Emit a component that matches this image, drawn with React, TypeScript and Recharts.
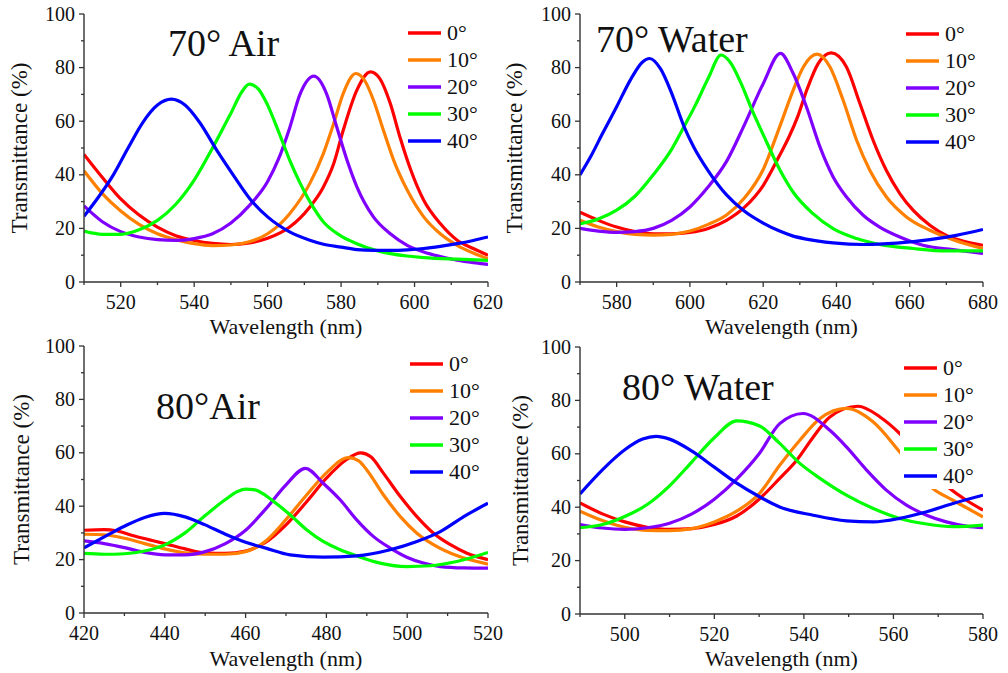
import { LineChart, Line, XAxis, YAxis, Legend } from "recharts";

const angles = ["0°", "10°", "20°", "30°", "40°"];
const colors = ["#ff0000", "#ff8000", "#8000ff", "#00ff00", "#0000ff"];
const yTicks = [0, 10, 20, 30, 40, 50, 60, 70, 80, 90, 100];

// 70° Air: [wavelength nm, transmittance %]
const air70_0 = [[510,47.6],[515,39],[520,31],[525,25],[530,20.5],[535,17.3],[540,15.5],[545,14.4],[550,14],[555,14.6],[560,16.3],[566,20.5],[571.5,28],[575,35],[578,44.2],[580.6,56.7],[584.3,71.6],[588,78.4],[590.5,76],[593.4,66.6],[596,54.2],[599,41.7],[602.5,30.5],[607,21.8],[611.6,15.6],[616,12.5],[620,10]];
const air70_10 = [[510,41.5],[515,33],[520,26.5],[525,21.5],[530,18],[535,15.8],[540,14.3],[545,13.6],[550,13.8],[555,15],[560,18],[566,25.5],[571.5,36.8],[575.2,48],[578,59.2],[580.6,70.4],[584,77.8],[586.5,75],[588.8,67.9],[591.5,56.7],[594.3,45.5],[598,34.3],[602.5,24.3],[607,18],[611.6,13.7],[616,10.8],[620,8.7]];
const air70_20 = [[510,28.4],[515,22.5],[520,18.8],[525,16.8],[530,15.8],[535,15.5],[540,16.2],[545,18],[550,22],[555,28.5],[560,37.5],[563,46],[566,57.5],[568.8,70],[572.6,76.8],[576,70.4],[578.8,57.9],[581.6,45.5],[584.3,35.5],[588.8,24.3],[593.4,18],[598,13.7],[602.5,11.2],[607,9.5],[611.6,8.1],[616,7.2],[620,6.6]];
const air70_30 = [[510,19],[515,17.8],[520,17.8],[525,19.5],[530,23],[535,29],[540,38],[545,50],[550,63],[553,71],[555,73.8],[557.5,72],[560,66],[563,56],[566,45.5],[568.8,37],[571.5,30],[575.2,22.4],[579.7,17.4],[584.3,14.3],[589,12],[593.4,10.6],[598,9.7],[602.5,9.1],[611.6,8.5],[620,8.1]];
const air70_40 = [[510,24.5],[514,31.8],[518,40],[522,50],[526,59.5],[530,66],[533.8,68.2],[537.5,66],[541.5,59.5],[546,49.5],[550.6,40],[555.2,31],[560,24.3],[566,18.7],[571.5,15.6],[575.2,14.1],[580,13],[584.3,12.1],[589,11.8],[593.4,11.8],[598,12],[602.5,12.5],[607,13.3],[611.6,14.3],[616,15.5],[620,16.8]];

// 70° Water
const water70_0 = [[570,26],[575,23],[580,20.5],[585,18.8],[590,18],[595,18],[600,18.5],[605,20],[610,23],[615,28],[620,36],[624.5,47.3],[627,54],[629.5,62],[632,72],[635,81.5],[638.6,85.5],[642.7,80.3],[646.4,66.6],[650,52.9],[653.6,41.7],[657.3,33],[660.9,26.8],[665.5,21.2],[670,17.4],[674.5,15.3],[680,13.7]];
const water70_10 = [[570,23],[575,20.5],[580,18.8],[585,17.8],[590,17.5],[595,17.8],[600,19],[605,21.5],[610,25],[615,31.5],[620,42],[624.5,57.9],[628.2,71.6],[631,80.3],[634.7,85],[638.2,80.3],[641.8,67.9],[645.5,52.9],[649.1,41.7],[653.6,31.8],[659.1,24.3],[665.5,19.3],[671.8,15.8],[680,12.5]];
const water70_20 = [[570,20],[575,19],[580,18.5],[585,18.8],[590,20],[595,23],[600,28],[605,35.5],[610,45],[615,59],[620,74],[624.7,85.3],[628.2,77.8],[631.8,65.4],[635.5,50.4],[639.1,39.2],[642.7,31.8],[647.3,24.9],[651.8,20.5],[657.3,16.8],[663.6,13.7],[671.8,12.1],[680,10.6]];
const water70_30 = [[570,21.7],[575,23.5],[580,26.8],[585,32],[590,40],[595,49.5],[598.4,58],[601.5,66],[605,76],[608.5,84.7],[611,82],[614,74],[617,64],[620,55],[624.5,42],[628.2,33.5],[633.6,25.5],[639.1,19.9],[645.5,16.2],[651.8,14],[660.9,12.5],[670,11.6],[680,11.6]];
const water70_40 = [[570,40],[573,47],[576,55],[580,65.4],[584,76],[587,82],[589,83.4],[592,79.5],[595,70.5],[598.4,58],[601,50.5],[605,41.5],[610,32.5],[615,26.3],[620,22],[624.5,19],[628,17.2],[631.8,16],[639.1,14.6],[647.3,14],[656.4,14.5],[665.5,15.8],[672.7,17.4],[680,19.6]];

// 80° Air
const air80_0 = [[420,31],[425,31.2],[428,30.8],[432,29],[436,27.5],[440,26],[445,24],[450,22.5],[455,22.3],[460,23.2],[465,26.5],[470,33],[475,41.5],[480,50.5],[485,57.5],[488.5,60],[491,58.5],[494.1,52.4],[498.3,43.6],[502.4,36.1],[506.5,29.9],[510.7,25.6],[514.8,22.4],[520,20]];
const air80_10 = [[420,29.5],[425,29.3],[430,28],[435,26],[440,24],[445,22.5],[450,22],[455,22],[460,23],[465,27],[470,35],[475,44],[480,52.5],[485.5,58.2],[488,57],[490,53.6],[494.1,44.3],[498.3,36.1],[502.4,29.9],[506.5,25.6],[512.4,21.4],[520,18.3]];
const air80_20 = [[420,27],[425,26],[430,24.5],[435,22.7],[440,21.8],[445,21.8],[450,23],[455,26],[460,31],[465,39],[470,48],[474.8,54.2],[479.2,48.6],[483.4,42.4],[487.5,34.9],[491.6,28.7],[495.8,24.3],[499.9,20.9],[504,18.7],[508.2,17.4],[514,16.9],[520,16.8]];
const air80_30 = [[420,22.3],[425,22],[430,22.2],[435,23.2],[440,25.5],[445,30],[450,36.5],[455,42.5],[458,45.5],[460,46.4],[462,46.2],[465,44],[468,40.5],[471,36.8],[475.1,31.2],[479.2,26.8],[483.4,23.7],[487.5,21.4],[493.3,18.7],[499.9,17.4],[505.7,17.7],[512.3,19.3],[520,22.7]];
const air80_40 = [[420,24.4],[425,28.5],[430,32.5],[435,35.8],[440,37.3],[445,36],[450,33],[455,29.5],[460,26.5],[465,24.3],[471,21.8],[479.2,20.9],[487.5,21.4],[495.8,23.7],[502.4,26.8],[508.2,30.5],[514,36.1],[520,41.1]];

// 80° Water
const water80_0 = [[490,41.6],[495,37.5],[500,34.5],[505,32.5],[510,31.7],[515,32],[520,33.5],[525,36.7],[530,43],[534.6,50.8],[538.4,57.6],[542.1,66.3],[545.8,73.8],[552.1,77.8],[557,73.8],[561.4,67.6],[566,59],[570,51],[572.6,47],[576.3,42.6],[580,38.9]];
const water80_10 = [[490,38.5],[495,35],[500,32.5],[505,31.3],[510,31.2],[515,32],[520,34.5],[525,38.5],[530,45],[534.6,55.7],[539.1,65.1],[543.6,73.2],[549.5,77],[555.5,71.9],[561.4,60.7],[565,53.5],[568.8,47],[573.3,42.6],[580,36.4]];
const water80_20 = [[490,33.5],[495,32.2],[500,31.7],[505,32.3],[510,34],[515,37.5],[520,43],[525,50.5],[530,60],[534.6,71.3],[539.8,75.1],[545.8,68.8],[549.5,62.6],[554,53.9],[558.4,46.4],[562.9,40.8],[567.4,37],[571.8,34.5],[576.3,32.9],[580,32.3]];
const water80_30 = [[490,32.3],[495,33.5],[500,36.5],[505,41],[510,48],[515,57],[520,66],[525,72.3],[530,70.5],[534.6,63.9],[539.1,56.4],[543.6,50.8],[549.5,44.5],[555.5,39.5],[561.4,35.8],[567.4,33.7],[573.3,32.7],[580,33.3]];
const water80_40 = [[490,45],[495,54],[500,61.5],[504,65.5],[507,66.5],[510,65.5],[515,61],[520,55],[525,49],[530,44],[534.6,40.1],[542.1,37],[549.5,34.9],[555.5,34.5],[561.4,35.8],[567.4,38.3],[573.3,41.4],[580,44.5]];

const air70Ticks = [510, 520, 530, 540, 550, 560, 570, 580, 590, 600, 610, 620];
const water70Ticks = [570, 580, 590, 600, 610, 620, 630, 640, 650, 660, 670, 680];
const air80Ticks = [420, 430, 440, 450, 460, 470, 480, 490, 500, 510, 520];
const water80Ticks = [490, 500, 510, 520, 530, 540, 550, 560, 570, 580];

const FONT = "'Liberation Serif', serif";
const INK = "#111";
const AXIS = "#333";

const toRows = (pts: number[][]) => pts.map(([wl, t]) => ({ wl, t }));

function BottomTick({ x, y, payload }: any) {
  const major = payload.value % 20 === 0;
  return (
    <g>
      <line x1={x} x2={x} y1={y} y2={y + (major ? 5 : 3)} stroke={AXIS} strokeWidth={1.3} />
      {major && (
        <text x={x} y={y + 27} textAnchor="middle" style={{ fontFamily: FONT, fontSize: 20 }} fill={INK}>
          {payload.value}
        </text>
      )}
    </g>
  );
}

function LeftTick({ x, y, payload }: any) {
  const major = payload.value % 20 === 0;
  return (
    <g>
      <line x1={x} x2={x - (major ? 5 : 3)} y1={y} y2={y} stroke={AXIS} strokeWidth={1.3} />
      {major && (
        <text x={x - 9} y={y + 6.5} textAnchor="end" style={{ fontFamily: FONT, fontSize: 20 }} fill={INK}>
          {payload.value}
        </text>
      )}
    </g>
  );
}

const TopTick = ({ x, y }: any) => <line x1={x} x2={x} y1={y} y2={y + 3} stroke={AXIS} strokeWidth={1.2} />;
const RightTick = ({ x, y }: any) => <line x1={x} x2={x - 3} y1={y} y2={y} stroke={AXIS} strokeWidth={1.2} />;

function legendContent(bg: boolean) {
  return ({ payload }: any) => (
    <div style={{ background: bg ? "#fff" : "transparent", padding: bg ? "0 4px" : 0 }}>
      {(payload || []).map((p: any) => (
        <div key={p.value} style={{ display: "flex", alignItems: "center", height: 27 }}>
          <svg width={33} height={6}>
            <line x1={0} x2={33} y1={3} y2={3} stroke={p.color} strokeWidth={3.5} />
          </svg>
          <span style={{ marginLeft: 6, fontFamily: FONT, fontSize: 22, lineHeight: "27px", color: INK }}>
            {p.value}
          </span>
        </div>
      ))}
    </div>
  );
}

interface PanelProps {
  series: number[][][];
  ticks: number[];
  title: string;
  left: number;
  top: number;
  height: number;
  margin: { top: number; right: number; left: number; bottom: number };
  yAxisWidth: number;
  xAxisHeight: number;
  yLabelX: number;
  xLabelOffset: number;
  titlePos: [number, number];
  legendPos: [number, number];
  legendBg?: boolean;
}

function Panel(p: PanelProps) {
  const domain = [p.ticks[0], p.ticks[p.ticks.length - 1]];
  return (
    <div style={{ position: "absolute", left: p.left, top: p.top }}>
      <LineChart width={530} height={p.height} margin={p.margin}>
        <XAxis
          dataKey="wl" type="number" domain={domain} ticks={p.ticks} interval={0} allowDataOverflow
          height={p.xAxisHeight} tickSize={0} tickMargin={0} tickLine={false}
          axisLine={{ stroke: AXIS, strokeWidth: 1.4 }} tick={<BottomTick />}
          label={{ value: "Wavelength (nm)", position: "insideBottom", offset: p.xLabelOffset, style: { fontFamily: FONT, fontSize: 22 }, fill: INK }}
        />
        <XAxis
          xAxisId="top" orientation="top" dataKey="wl" type="number" domain={domain} ticks={p.ticks} interval={0}
          allowDataOverflow height={0} tickSize={0} tickMargin={0} tickLine={false}
          axisLine={{ stroke: AXIS, strokeWidth: 1.4 }} tick={<TopTick />}
        />
        <YAxis
          type="number" domain={[0, 100]} ticks={yTicks} interval={0} allowDataOverflow width={p.yAxisWidth}
          tickSize={0} tickMargin={0} tickLine={false} axisLine={{ stroke: AXIS, strokeWidth: 1.4 }} tick={<LeftTick />}
          label={{ value: "Transmittance (%)", angle: -90, position: "insideLeft", offset: p.yLabelX, style: { textAnchor: "middle", fontFamily: FONT, fontSize: 23 }, fill: INK }}
        />
        <YAxis
          yAxisId="right" orientation="right" type="number" domain={[0, 100]} ticks={yTicks} interval={0}
          allowDataOverflow width={0} tickSize={0} tickMargin={0} tickLine={false}
          axisLine={{ stroke: AXIS, strokeWidth: 1.4 }} tick={<RightTick />}
        />
        {p.series.map((s, i) => (
          <Line
            key={angles[i]} name={angles[i]} data={toRows(s)} dataKey="t" type="monotone"
            stroke={colors[i]} strokeWidth={3.2} dot={false} activeDot={false} isAnimationActive={false}
          />
        ))}
        <Legend
          layout="vertical" align="center" verticalAlign="middle" content={legendContent(!!p.legendBg)}
          wrapperStyle={{ left: p.legendPos[0], top: p.legendPos[1], width: "auto", height: "auto" }}
        />
        <text x={p.titlePos[0]} y={p.titlePos[1]} style={{ fontFamily: FONT, fontSize: 38 }} fill={INK}>{p.title}</text>
      </LineChart>
    </div>
  );
}

export default function App() {
  return (
    <div style={{ position: "absolute", left: 0, top: 0, width: 1008, height: 673, background: "#fff", overflow: "hidden" }}>
      <Panel
        series={[air70_0, air70_10, air70_20, air70_30, air70_40]} ticks={air70Ticks} title="70° Air"
        left={0} top={0} height={342} margin={{ top: 14, right: 42, left: 0, bottom: 6 }}
        yAxisWidth={84} xAxisHeight={54} yLabelX={19} xLabelOffset={2}
        titlePos={[168, 56]} legendPos={[408, 19]}
      />
      <Panel
        series={[water70_0, water70_10, water70_20, water70_30, water70_40]} ticks={water70Ticks} title="70° Water"
        left={500} top={0} height={342} margin={{ top: 14, right: 47, left: 0, bottom: 6 }}
        yAxisWidth={80} xAxisHeight={54} yLabelX={14} xLabelOffset={2}
        titlePos={[96, 52]} legendPos={[406, 20]}
      />
      <Panel
        series={[air80_0, air80_10, air80_20, air80_30, air80_40]} ticks={air80Ticks} title="80°Air"
        left={0} top={330} height={349} margin={{ top: 16, right: 42, left: 0, bottom: 6 }}
        yAxisWidth={84} xAxisHeight={60} yLabelX={21} xLabelOffset={7}
        titlePos={[156, 89]} legendPos={[410, 20]}
      />
      <Panel
        series={[water80_0, water80_10, water80_20, water80_30, water80_40]} ticks={water80Ticks} title="80° Water"
        left={500} top={330} height={349} margin={{ top: 17, right: 47, left: 0, bottom: 6 }}
        yAxisWidth={80} xAxisHeight={59} yLabelX={20} xLabelOffset={7}
        titlePos={[122, 70]} legendPos={[400, 24]} legendBg
      />
    </div>
  );
}
